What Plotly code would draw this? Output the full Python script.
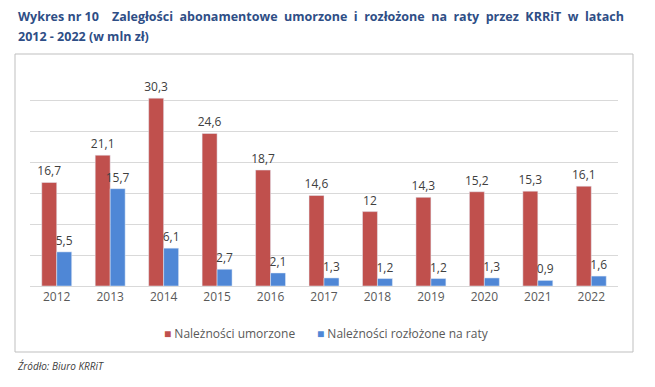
import plotly.graph_objects as go

years = ["2012", "2013", "2014", "2015", "2016", "2017", "2018", "2019", "2020", "2021", "2022"]
umorzone = [16.7, 21.1, 30.3, 24.6, 18.7, 14.6, 12, 14.3, 15.2, 15.3, 16.1]
raty = [5.5, 15.7, 6.1, 2.7, 2.1, 1.3, 1.2, 1.2, 1.3, 0.9, 1.6]
series_names = ["Należności umorzone", "Należności rozłożone na raty"]
colors = ["#C0504D", "#4F87D6"]

def fmt(v):
    return ("%g" % v).replace(".", ",")

FONT = "Open Sans"
# page body has an 8px margin: figure pixel = screen pixel - 8
fig = go.Figure()
for name, vals, col in zip(series_names, [umorzone, raty], colors):
    fig.add_trace(go.Bar(x=years, y=vals, name=name, marker_color=col,
                         text=[fmt(v) for v in vals], textposition="outside",
                         constraintext="none",
                         textfont=dict(size=12, color="#404040", family=FONT),
                         cliponaxis=False, showlegend=False))

fig.update_layout(
    width=647, height=379,
    margin=dict(l=22, r=37, t=61, b=101),
    paper_bgcolor="white", plot_bgcolor="white",
    barmode="group", bargap=0.44, bargroupgap=0,
    font=dict(family=FONT, color="#595959"),
    xaxis=dict(showgrid=False, showline=True, linecolor="#D9D9D9", ticks="",
               tickfont=dict(size=12, color="#595959", family=FONT)),
    yaxis=dict(range=[0, 35], dtick=5, showgrid=True, gridcolor="#D9D9D9",
               showticklabels=False, zeroline=False, showline=False),
)

def px_x(sx):
    return (sx - 30) / 588

def px_y(sy):
    return (286 - sy) / 217

fig.add_shape(type="rect", xref="paper", yref="paper",
              x0=px_x(15), x1=px_x(633), y0=px_y(352), y1=px_y(54),
              line=dict(color="#BFBFBF", width=1), layer="below")

nb = "&nbsp;"
line1 = ("Wykres nr 10" + nb * 3 + " " + (nb + " ").join(
    "Zaległości abonamentowe umorzone i rozłożone na raty przez KRRiT w latach".split(" ")))
fig.add_annotation(xref="paper", yref="paper", x=px_x(17), y=px_y(17), xanchor="left", yanchor="middle",
                   showarrow=False, align="left", text="<b>" + line1 + "</b>", borderpad=0,
                   font=dict(size=12.5, color="#2E4E86", family=FONT))
fig.add_annotation(xref="paper", yref="paper", x=px_x(17), y=px_y(37), xanchor="left", yanchor="middle",
                   showarrow=False, align="left", text="<b>2012 - 2022 (w mln zł)</b>", borderpad=0,
                   font=dict(size=12.5, color="#2E4E86", family=FONT))
fig.add_annotation(xref="paper", yref="paper", x=px_x(15), y=px_y(366), xanchor="left", yanchor="middle",
                   showarrow=False, align="left", text="<i>Źródło: Biuro KRRiT</i>",
                   font=dict(size=10, color="#404040", family=FONT))

# legend drawn as text entries
for sx, name, col in zip([162, 315], series_names, colors):
    fig.add_annotation(xref="paper", yref="paper", x=px_x(sx), y=px_y(333), xanchor="left", yanchor="middle",
                       showarrow=False, align="left",
                       text="<span style='color:%s'>■</span> %s" % (col, name),
                       font=dict(size=12, color="#595959", family=FONT))

fig.write_html("out.html")
